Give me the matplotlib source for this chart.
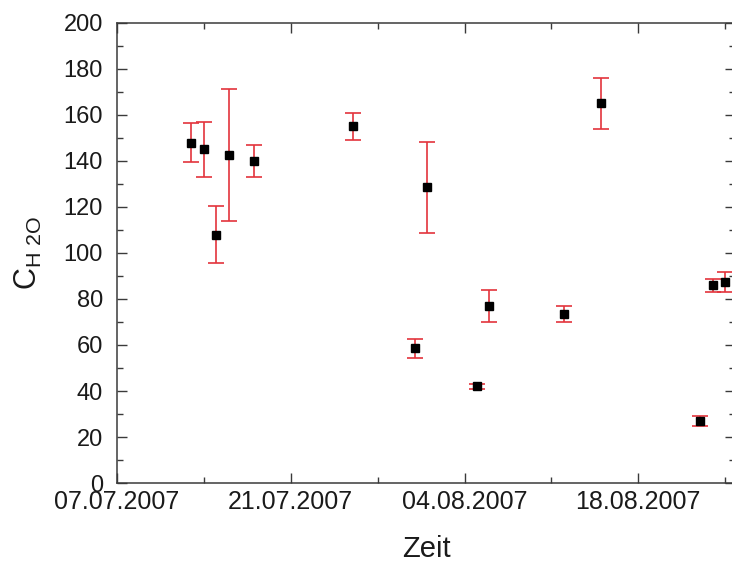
import matplotlib
matplotlib.use('Agg')
import matplotlib.pyplot as plt
import matplotlib.dates as mdates
import matplotlib.ticker as mticker
import pandas as pd

# Schrift wie im Original (Arial-ähnlich)
plt.rcParams['font.family'] = ['Liberation Sans', 'DejaVu Sans']
plt.rcParams['mathtext.fontset'] = 'custom'
plt.rcParams['mathtext.rm'] = 'Liberation Sans'

# Messdaten
dates = ['2007-07-13', '2007-07-14', '2007-07-15', '2007-07-16', '2007-07-18',
         '2007-07-26', '2007-07-31', '2007-08-01', '2007-08-05', '2007-08-06',
         '2007-08-12', '2007-08-15', '2007-08-23', '2007-08-24', '2007-08-25']
c_h2o = [148, 145, 108, 142.5, 140, 155, 58.5, 128.5, 42, 77, 73.5, 165, 27, 86, 87.5]
c_err = [8.4, 11.9, 12.4, 28.6, 6.9, 5.8, 4.0, 19.6, 1.2, 6.9, 3.6, 11, 2.2, 2.9, 4.4]

x_start = '2007-07-07'
x_end = '2007-08-25 19:00'
y_range = (0, 200)

x = pd.to_datetime(dates)

fig = plt.figure(figsize=(7.32, 5.64), dpi=100)
ax = fig.add_axes([117 / 732, 81 / 564, 618 / 732, 460 / 564])

ax.errorbar(x, c_h2o, yerr=c_err, fmt='s', color='black', markersize=5.5,
            ecolor='#e3343c', elinewidth=1.2, capsize=6, capthick=1.2)

ax.set_xlim(pd.Timestamp(x_start), pd.Timestamp(x_end))
ax.set_ylim(y_range)

# Achsen / Ticks: Hauptticks alle 14 Tage, Nebenticks alle 7 Tage
ax.xaxis.set_major_locator(mticker.FixedLocator(
    mdates.date2num(pd.date_range(x_start, periods=4, freq='14D'))))
ax.xaxis.set_minor_locator(mticker.FixedLocator(
    mdates.date2num(pd.date_range(x_start, periods=8, freq='7D'))))
ax.xaxis.set_major_formatter(mdates.DateFormatter('%d.%m.%Y'))
ax.yaxis.set_major_locator(mticker.MultipleLocator(20))
ax.yaxis.set_minor_locator(mticker.MultipleLocator(10))

spine_col = '#3a3a3a'
for s in ax.spines.values():
    s.set_linewidth(1.1)
    s.set_color(spine_col)

ax.tick_params(which='both', direction='in', top=True, right=True,
               color=spine_col, width=1.0, labelcolor='#1a1a1a')
ax.tick_params(which='major', length=7)
ax.tick_params(which='minor', length=4)
ax.tick_params(axis='x', labelsize=18, pad=5)
ax.tick_params(axis='y', labelsize=17, pad=10)

ax.set_xlabel('Zeit', fontsize=21, color='#1a1a1a', labelpad=15)
ax.set_ylabel(r'C$_{\mathrm{H\ 2O}}$', fontsize=22, color='#1a1a1a', labelpad=14)

plt.savefig('out.png', dpi=100)
